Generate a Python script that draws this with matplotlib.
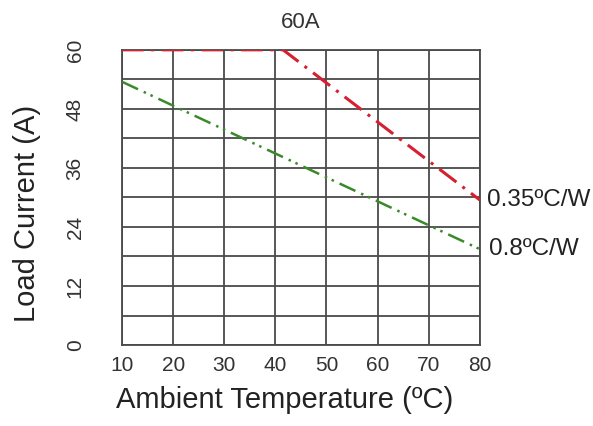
import matplotlib.pyplot as plt
import numpy as np

plt.rcParams['font.family'] = ['Liberation Sans', 'DejaVu Sans']

# --- data ---
temp_035 = [10, 41.5, 80]
curr_035 = [60, 60, 29.5]
temp_08 = [10, 80]
curr_08 = [53.5, 19.5]

x_ticks = [10, 20, 30, 40, 50, 60, 70, 80]
y_ticks = [0, 12, 24, 36, 48, 60]
y_grid = np.arange(0, 61, 6)

fig = plt.figure(figsize=(5.93, 4.26), dpi=100)
ax = fig.add_axes([0.206, 0.19, 0.603, 0.693])

grid_col = '#4a4a4a'
for gx in x_ticks:
    ax.axvline(gx, color=grid_col, lw=1.3, zorder=1)
for gy in y_grid:
    ax.axhline(gy, color=grid_col, lw=1.3, zorder=1)

ax.plot(temp_035, curr_035, color='#d42030', lw=2.2, dashes=(7, 2.5, 1, 2.5), zorder=3)
ax.plot(temp_08, curr_08, color='#3a8a2a', lw=1.8, dashes=(7, 2.5, 1, 2, 1, 2.5), zorder=3)

ax.set_xlim(10, 80)
ax.set_ylim(0, 60)
ax.set_xticks(x_ticks)
ax.set_yticks(y_ticks)
ax.tick_params(length=0, labelsize=15, colors='#333333')
ax.tick_params(axis='x', pad=8)
ax.tick_params(axis='y', pad=27)
for lab in ax.get_yticklabels():
    lab.set_rotation(90)
    lab.set_va('center')
for sp in ax.spines.values():
    sp.set_color(grid_col)
    sp.set_linewidth(1.3)

ax.set_xlabel('Ambient Temperature (ºC)', fontsize=21, color='#222222', labelpad=8, x=0.455)
ax.set_ylabel('Load Current (A)', fontsize=21, color='#222222', labelpad=18, y=0.447)
ax.set_title('60A', fontsize=16, color='#333333', pad=16)

ax.text(1.02, curr_035[-1], '0.35ºC/W', transform=ax.get_yaxis_transform(),
        fontsize=17.5, color='#222222', va='center', ha='left', clip_on=False)
ax.text(1.025, curr_08[-1], '0.8ºC/W', transform=ax.get_yaxis_transform(),
        fontsize=17.5, color='#222222', va='center', ha='left', clip_on=False)

fig.savefig('out.png', dpi=100)
